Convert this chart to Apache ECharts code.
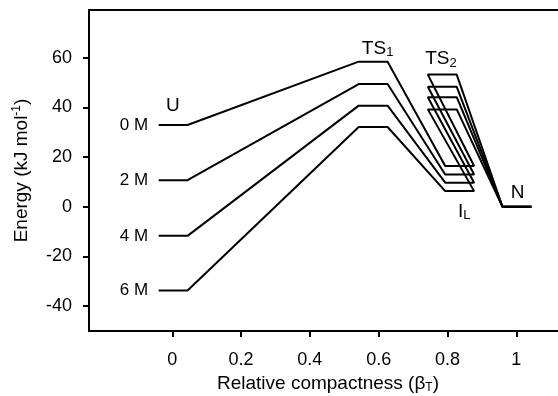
<!DOCTYPE html>
<html>
<head>
<meta charset="utf-8">
<script src="https://cdn.jsdelivr.net/npm/echarts@6/dist/echarts.min.js"></script>
<style>
  html, body { margin: 0; padding: 0; background: #fff; }
  #chart { width: 558px; height: 396px; }
</style>
</head>
<body>
<div id="chart"></div>
<script>
// Energy levels (kJ/mol, relative to N) at each denaturant concentration
const concentrations = ["0 M", "2 M", "4 M", "6 M"]
const energyU = [32.9, 10.7, -11.7, -33.7]
const energyTS1 = [58.4, 49.4, 40.7, 32.1]
const energyIL = [16.4, 13.0, 9.7, 6.3]
const energyTS2 = [53.2, 48.3, 44.1, 39.2]
const energyN = [0, 0, 0, 0]

// relative compactness (beta_T) of each state, in path order U -> TS1 -> IL -> TS2 -> N
const stateBeta = [0.0025, 0.584, 0.8355, 0.785, 1.002]

const xTicks = [0, 0.2, 0.4, 0.6, 0.8, 1]
const yTicks = [-40, -20, 0, 20, 40, 60]

const FONT = "Liberation Sans"
const HALF = 0.042 // half width of each level plateau

const levels = [energyU, energyTS1, energyIL, energyTS2, energyN]

const pathSeries = concentrations.map((c, i) => {
  const data = []
  levels.forEach((lv, k) => {
    data.push([stateBeta[k] - HALF, lv[i]])
    data.push([stateBeta[k] + HALF, lv[i]])
  })
  return {
    name: c,
    type: "line",
    data,
    symbol: "none",
    silent: true,
    lineStyle: { color: "#000", width: 2 },
    z: 3,
  }
})

// concentration labels sit just left of the U plateau
const concLabels = {
  type: "scatter",
  symbolSize: 0,
  silent: true,
  itemStyle: { color: "#000", opacity: 1 },
  data: concentrations.map((c, i) => ({ value: [-0.07, energyU[i]], name: c })),
  label: {
    show: true,
    position: "left",
    distance: 0,
    formatter: (p) => p.name,
    fontFamily: FONT,
    fontSize: 17,
    color: "#000",
    opacity: 1,
    textBorderWidth: 0,
  },
}

const rich = {
  m: { fontFamily: FONT, fontSize: 19, color: "#000", lineHeight: 20, verticalAlign: "top" },
  s: { fontFamily: FONT, fontSize: 13, color: "#000", lineHeight: 8, verticalAlign: "bottom" },
}

const stateLabels = [
  { text: "{m|U}", at: [0.002, 40.3] },
  { text: "{m|TS}{s|1}", at: [0.597, 63.5] },
  { text: "{m|TS}{s|2}", at: [0.781, 59.3] },
  { text: "{m|I}{s|L}", at: [0.849, -2.2] },
  { text: "{m|N}", at: [1.004, 5.6] },
]

const stateLabelSeries = {
  type: "scatter",
  symbolSize: 0,
  silent: true,
  itemStyle: { color: "#000", opacity: 1 },
  data: stateLabels.map((s) => ({ value: s.at, name: s.text })),
  label: {
    show: true,
    position: "inside",
    color: "#000",
    opacity: 1,
    textBorderWidth: 0,
    formatter: (p) => p.name,
    rich,
  },
}

const chart = echarts.init(document.getElementById("chart"))
chart.setOption({
  animation: false,
  grid: {
    left: 89, top: 10, width: 478, height: 321,
    outerBoundsMode: "none",
    containLabel: false,
    show: true, borderColor: "#000", borderWidth: 2,
  },
  xAxis: {
    type: "value",
    min: -0.242,
    max: 1.1475,
    splitLine: { show: false },
    axisLine: { show: true, onZero: false, lineStyle: { color: "#000", width: 2 } },
    axisTick: { show: true, inside: false, length: 6, lineStyle: { color: "#000", width: 2 }, customValues: xTicks },
    axisLabel: { customValues: xTicks, margin: 20, fontFamily: FONT, fontSize: 18, color: "#000" },
    name: "{m|Relative compactness (β}{s|T}{m|)}",
    nameLocation: "middle",
    nameGap: 41,
    nameTextStyle: {
      rich: {
        m: { fontFamily: FONT, fontSize: 19, color: "#000", lineHeight: 20, verticalAlign: "top" },
        s: { fontFamily: FONT, fontSize: 12, color: "#000", lineHeight: 8, verticalAlign: "bottom" },
      },
    },
  },
  yAxis: {
    type: "value",
    min: -50,
    max: 79.2,
    splitLine: { show: false },
    axisLine: { show: true, onZero: false, lineStyle: { color: "#000", width: 2 } },
    axisTick: { show: true, inside: false, length: 6, lineStyle: { color: "#000", width: 2 }, customValues: yTicks },
    axisLabel: { customValues: yTicks, margin: 17, fontFamily: FONT, fontSize: 18, color: "#000" },
    name: "{m|Energy (kJ mol}{p|-1}{m|)}",
    nameLocation: "middle",
    nameGap: 58,
    nameTextStyle: {
      rich: {
        m: { fontFamily: FONT, fontSize: 19, color: "#000", lineHeight: 20, verticalAlign: "bottom" },
        p: { fontFamily: FONT, fontSize: 12, color: "#000", lineHeight: 8, verticalAlign: "top" },
      },
    },
  },
  series: [...pathSeries, concLabels, stateLabelSeries],
})
</script>
</body>
</html>
